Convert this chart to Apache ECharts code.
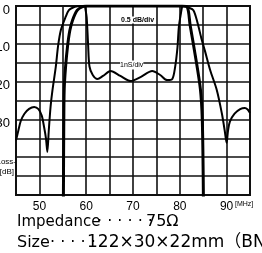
<!DOCTYPE html>
<html>
<head>
<meta charset="utf-8">
<style>
  html, body { margin: 0; padding: 0; background: #fff; }
  #chart { width: 262px; height: 253px; }
</style>
<script src="https://cdn.jsdelivr.net/npm/echarts@6/dist/echarts.min.js"></script>
</head>
<body>
<div id="chart"></div>
<script>
// attenuation, 5 dB per division
const attenFreq = [45.0, 45.4, 46.0, 46.8, 47.8, 48.9, 49.8, 50.5, 51.0, 51.4, 51.7, 52.0, 52.4, 52.8, 53.5, 54.0, 54.6, 55.6, 56.3, 57.2, 58.1, 59.0,
  80.0, 81.0, 81.8, 82.9, 83.8, 84.6, 85.4, 86.5, 87.9, 89.0, 89.6, 90.0, 90.3, 90.7, 91.7, 92.9, 93.9, 94.5, 95.0];
const attenLoss = [35.5, 33.5, 30.5, 28.5, 27.2, 26.7, 27.3, 29.0, 32.0, 35.0, 38.6, 33.0, 26.5, 22.2, 16.1, 10.5, 6.3, 2.9, 1.1, 0.4, 0.1, 0.0,
  0.0, 0.1, 0.4, 1.1, 4.5, 8.5, 12.0, 17.0, 22.2, 28.5, 33.0, 36.2, 33.0, 30.6, 28.5, 27.3, 27.0, 27.4, 28.3];

// passband loss, 0.5 dB per division
const passFreq = [55.1, 55.15, 55.2, 55.3, 55.6, 56.0, 56.5, 57.1, 58.1, 59.2, 60.0, 80.5, 81.6, 82.2, 83.3, 84.4, 84.8, 85.0, 85.1];
const passLoss = [6.0, 4.5, 3.3, 2.2, 1.6, 1.08, 0.65, 0.37, 0.11, 0.02, 0.0, 0.0, 0.03, 0.5, 1.3, 2.2, 3.0, 4.5, 6.0];

// group delay, 1 ns per division
const delayFreq = [59.6, 59.8, 60.1, 60.4, 60.7, 61.4, 62.4, 63.6, 65.2, 67.3, 69.5, 71.7, 74.1, 75.8, 77.3, 78.4, 79.0, 79.5, 79.8, 80.3, 80.7];
const delayNs = [10.3, 9.9, 9.4, 8.0, 6.8, 6.35, 6.14, 6.3, 6.56, 6.3, 6.03, 6.25, 6.56, 6.35, 6.08, 6.14, 6.77, 7.8, 8.9, 9.7, 10.3];

const xTickLabels = [50, 60, 70, 80, 90];
const yTickLabels = [0, 10, 20, 30];

const zip = (xs, ys) => xs.map((x, i) => [x, ys[i]]);

const chart = echarts.init(document.getElementById('chart'), null, { renderer: 'canvas' });

const gridLine = { show: true, lineStyle: { color: '#111', width: 1.6 } };
const curve = (data, yAxisIndex, width) => ({
  type: 'line',
  data,
  yAxisIndex,
  symbol: 'none',
  smooth: 0.3,
  clip: true,
  silent: true,
  lineStyle: { color: '#000', width }
});

const txt = (text, x, y, font, extra) => ({
  type: 'text',
  z: 100,
  style: Object.assign({
    text, x, y, font,
    fill: '#000',
    verticalAlign: 'middle'
  }, extra || {})
});

const small = size => size + 'px "Liberation Sans", sans-serif';
const big = size => size + 'px "DejaVu Sans", "Noto Sans CJK JP", sans-serif';

chart.setOption({
  animation: false,
  grid: {
    left: 16, right: 12, top: 6, bottom: 58,
    outerBoundsMode: 'none', containLabel: false,
    show: true, borderColor: '#111', borderWidth: 2
  },
  xAxis: {
    type: 'value', min: 45, max: 95, interval: 5,
    axisLine: { show: false }, axisTick: { show: false },
    splitLine: gridLine,
    axisLabel: {
      margin: 6, fontSize: 12, color: '#000', fontFamily: 'Liberation Sans',
      formatter: v => xTickLabels.includes(v) ? String(v) : ''
    }
  },
  yAxis: [
    {
      type: 'value', inverse: true, min: 0, max: 50, interval: 5,
      axisLine: { show: false }, axisTick: { show: false },
      splitLine: gridLine,
      axisLabel: {
        margin: 6, fontSize: 13, color: '#000', fontFamily: 'Liberation Sans',
        verticalAlign: 'top', lineHeight: 8,
        formatter: v => yTickLabels.includes(v) ? String(v) : ''
      }
    },
    { type: 'value', inverse: true, min: 0, max: 5, show: false },
    { type: 'value', min: 0, max: 10, show: false }
  ],
  series: [
    curve(zip(attenFreq, attenLoss), 0, 2),
    curve(zip(passFreq, passLoss), 1, 3),
    curve(zip(delayFreq, delayNs), 2, 2)
  ],
  graphic: [
    txt('0.5 dB/div', 121, 20, 'bold 7px "Liberation Sans", sans-serif', { backgroundColor: '#fff' }),
    txt('1nS/div', 120, 65, small(7), { backgroundColor: '#fff', padding: [1, 0] }),
    txt('Loss-', 16, 162, small(8), { align: 'right' }),
    txt('[dB]', 14, 172, small(8), { align: 'right' }),
    txt('[MHz]', 235, 204, small(7)),
    txt('Impedance', 17, 222, big(15)),
    txt('· · · · · ·', 97, 222, big(16)),
    txt('75Ω', 146, 222, big(16)),
    txt('Size', 17, 243, big(16)),
    txt('· · · · ·', 50, 243, big(16)),
    txt('122×30×22mm（BNC）', 87, 243, big(17))
  ]
});
</script>
</body>
</html>
